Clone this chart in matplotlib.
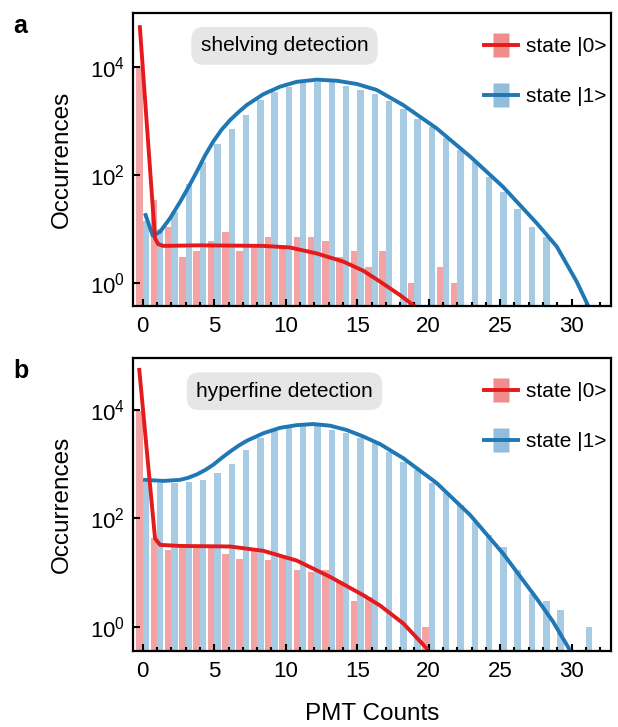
import numpy as np
import matplotlib.pyplot as plt
from matplotlib.path import Path
from matplotlib.ticker import MultipleLocator, NullLocator
from matplotlib.lines import Line2D
from matplotlib.legend_handler import HandlerTuple

plt.rcParams['font.family'] = ['Liberation Sans', 'DejaVu Sans']
plt.rcParams['font.size'] = 15

RED = '#e41a1c'
BLUE = '#1f77b4'
RED_BAR = '#f3a3a3'
BLUE_BAR = '#a7cbe3'

# histogram counts (0 = no bar)
a_red = [10500, 34, 11, 3, 4, 6, 9, 4, 5, 7, 5, 7, 7, 6, 3, 4, 2, 4, 0, 1, 0, 2, 1]
a_blue = [14, 10, 21, 68, 170, 365, 720, 1260, 2400, 3470, 4270, 4900, 5250, 5130,
          4370, 3720, 3100, 2300, 1650, 1100, 780, 475, 295, 175, 93, 49, 24, 11, 7]
b_red = [9500, 43, 26, 28, 31, 31, 22, 18, 25, 17, 20, 11, 10, 11, 7, 3, 3.5, 0, 0, 0, 1]
b_blue = [470, 455, 455, 460, 500, 680, 1000, 1800, 3000, 4070, 4790, 5000, 5000, 4270,
          3720, 3020, 2450, 1700, 1100, 790, 455, 290, 176, 87, 49, 29, 11, 4, 3, 2, 0, 1]

# fitted curves (log10 of occurrences)
a_red_fit_x = [-0.2, 0.86, 1.09, 1.44, 4.0, 8.43, 10.3, 12.17, 14.03, 15.43, 16.6, 18.0, 19.04]
a_red_fit_log = [4.73, 0.83, 0.72, 0.69, 0.70, 0.69, 0.66, 0.55, 0.40, 0.23, 0.03, -0.22, -0.43]
a_blue_fit_x = [0.2, 0.7, 1.21, 1.91, 2.61, 3.19, 3.78, 4.36, 4.94, 5.5, 6.1, 6.7, 7.27, 8.43,
                9.6, 10.77, 12.17, 13.57, 14.97, 16.36, 18.22, 20.56, 22.9, 25.2, 27.55,
                28.95, 30.35, 31.16]
a_blue_fit_log = [1.26, 0.88, 0.95, 1.2, 1.5, 1.77, 2.06, 2.36, 2.62, 2.83, 3.01, 3.16, 3.29,
                  3.49, 3.63, 3.72, 3.76, 3.74, 3.68, 3.57, 3.29, 2.86, 2.34, 1.78, 1.11,
                  0.68, 0.03, -0.42]
b_red_fit_x = [-0.24, 0.86, 1.21, 2.61, 6.1, 8.43, 10.77, 13.1, 15.43, 16.6, 18.22, 19.86]
b_red_fit_log = [4.74, 1.63, 1.51, 1.49, 1.48, 1.40, 1.22, 0.92, 0.58, 0.39, 0.06, -0.40]
b_blue_fit_x = [0.16, 1.44, 2.61, 3.2, 3.78, 4.36, 4.94, 5.5, 6.1, 6.7, 7.27, 8.43, 9.6, 10.77,
                11.93, 13.1, 14.27, 15.43, 16.6, 18.22, 20.56, 22.9, 25.2, 27.55, 28.7, 29.8]
b_blue_fit_log = [2.71, 2.69, 2.71, 2.75, 2.81, 2.89, 2.99, 3.11, 3.23, 3.34, 3.43, 3.57, 3.67,
                  3.72, 3.74, 3.71, 3.63, 3.51, 3.37, 3.11, 2.65, 2.06, 1.35, 0.52, 0.09, -0.40]

panels = [
    ('a', 'shelving detection', a_red, a_blue, a_red_fit_x, a_red_fit_log,
     a_blue_fit_x, a_blue_fit_log, [0.2152, 0.5791, 0.7735, 0.4037], (0.38, 1e5)),
    ('b', 'hyperfine detection', b_red, b_blue, b_red_fit_x, b_red_fit_log,
     b_blue_fit_x, b_blue_fit_log, [0.2152, 0.1045, 0.7735, 0.4034], (0.355, 9.2e4)),
]

rect = Path([(-0.32, -0.5), (0.32, -0.5), (0.32, 0.5), (-0.32, 0.5), (-0.32, -0.5)],
            [Path.MOVETO, Path.LINETO, Path.LINETO, Path.LINETO, Path.CLOSEPOLY])

fig = plt.figure(figsize=(6.18, 7.27), dpi=100)
W = 0.45
LW = 2.8
for letter, title, red, blue, rfx, rfl, bfx, bfl, pos, ylim in panels:
    ax = fig.add_axes(pos)
    xr = np.arange(len(red))
    xb = np.arange(len(blue))
    red = np.array(red, float)
    blue = np.array(blue, float)
    ax.bar(xr[red > 0], red[red > 0], width=-W, align='edge', color=RED_BAR, lw=0)
    ax.bar(xb[blue > 0], blue[blue > 0], width=W, align='edge', color=BLUE_BAR, lw=0)
    ax.plot(bfx, 10 ** np.array(bfl), color=BLUE, lw=LW, solid_joinstyle='round')
    ax.plot(rfx, 10 ** np.array(rfl), color=RED, lw=LW, solid_joinstyle='round')
    ax.set_yscale('log')
    ax.set_ylim(*ylim)
    ax.set_xlim(-0.68, 32.75)
    ax.set_yticks([1, 1e2, 1e4])
    ax.yaxis.set_minor_locator(NullLocator())
    ax.xaxis.set_major_locator(MultipleLocator(5))
    ax.xaxis.set_minor_locator(MultipleLocator(1))
    ax.tick_params(which='both', direction='in', width=1.5, labelsize=16)
    ax.tick_params(which='major', length=5)
    ax.tick_params(which='minor', length=3)
    ax.tick_params(axis='x', pad=7)
    ax.tick_params(axis='y', pad=6)
    for s in ax.spines.values():
        s.set_linewidth(1.6)
    ax.set_ylabel('Occurrences', fontsize=17.5, labelpad=12)
    ax.text(0.317, 0.886, title, transform=ax.transAxes, ha='center', va='center', fontsize=15,
            bbox=dict(boxstyle='round,pad=0.45,rounding_size=0.6', fc='#e6e6e6', ec='none'))
    fig.text(0.022, pos[1] + pos[3] - 0.002, letter, fontsize=18, fontweight='bold', va='top')

    h0 = (Line2D([], [], ls='none', marker=rect, ms=17, mfc='#f08c8c', mec='none'),
          Line2D([], [], color=RED, lw=LW))
    h1 = (Line2D([], [], ls='none', marker=rect, ms=17, mfc='#93bddc', mec='none'),
          Line2D([], [], color=BLUE, lw=LW))
    ax.legend([h0, h1], ['state |0>', 'state |1>'], handler_map={tuple: HandlerTuple(ndivide=1)},
              loc='upper right', bbox_to_anchor=(1.008, 0.945), frameon=False, fontsize=15,
              handlelength=1.6, handletextpad=0.4, labelspacing=1.5, borderaxespad=0.0)

ax.set_xlabel('PMT Counts', fontsize=17.5, labelpad=15)

plt.savefig('out.png')
